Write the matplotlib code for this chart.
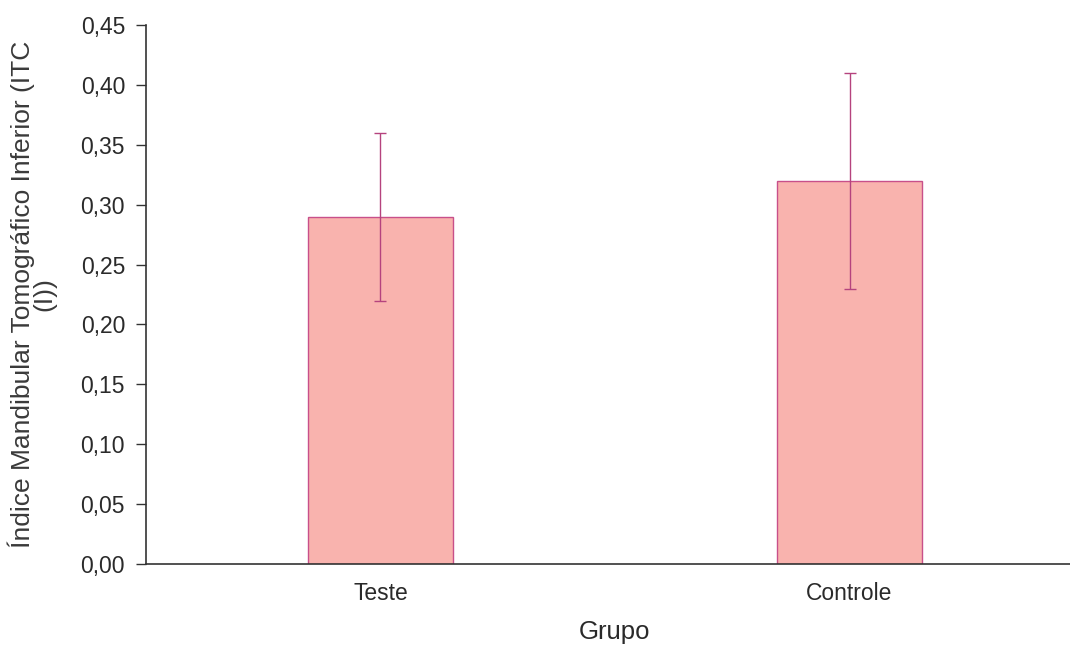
import matplotlib.pyplot as plt
from matplotlib.ticker import FuncFormatter

grupos = ['Teste', 'Controle']
medias = [0.29, 0.32]
desvios = [0.07, 0.09]

plt.rcParams['font.family'] = ['Liberation Sans', 'DejaVu Sans']
plt.rcParams['font.size'] = 16

fig = plt.figure(figsize=(10.7, 6.48), dpi=100)
ax = fig.add_axes([0.1364, 0.1296, 0.8636, 0.8318])

x = range(len(grupos))
ax.bar(x, medias, width=0.31, color='#F9B3AE', edgecolor='#C8508A', linewidth=1.0)
ax.errorbar(x, medias, yerr=desvios, fmt='none', ecolor='#B5437E', elinewidth=1.0,
            capsize=4.5, capthick=1.0)

ax.set_xlim(-0.5, 1.47)
ax.set_ylim(0, 0.45)
ax.set_yticks([i * 0.05 for i in range(10)])
ax.yaxis.set_major_formatter(FuncFormatter(lambda v, p: f'{v:.2f}'.replace('.', ',')))
ax.set_xticks(list(x))
ax.set_xticklabels(grupos)
ax.tick_params(axis='x', length=0, pad=13, colors='#2a2a2a', labelsize=16.5)
ax.tick_params(axis='y', length=7, width=1, colors='#333333', labelcolor='#2a2a2a', pad=8,
               labelsize=16.5)

for s in ['top', 'right']:
    ax.spines[s].set_visible(False)
for s in ['left', 'bottom']:
    ax.spines[s].set_color('#333333')
    ax.spines[s].set_linewidth(1.2)

ax.set_xlabel('Grupo', color='#2a2a2a', fontsize=18.5)
ax.xaxis.set_label_coords(0.507, -0.104)
ax.set_ylabel('Índice Mandibular Tomográfico Inferior (ITC\n(I))', color='#3a3a3a',
              fontsize=19, linespacing=0.85)
ax.yaxis.set_label_coords(-0.097, 0.5)

plt.savefig('out.png', dpi=100)
